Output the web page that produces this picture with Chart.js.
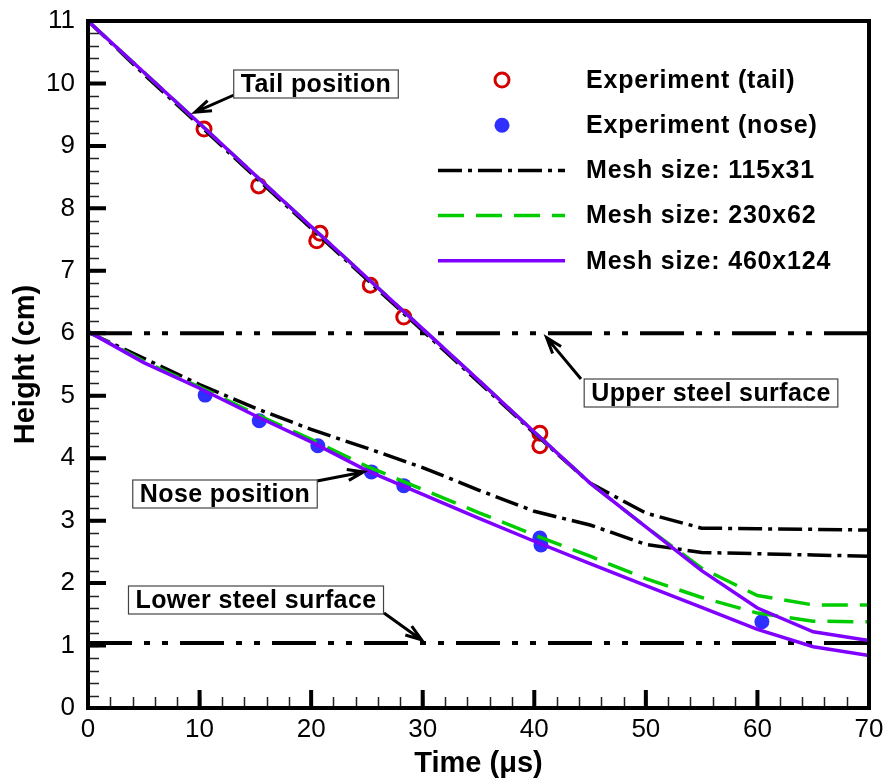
<!DOCTYPE html>
<html>
<head>
<meta charset="utf-8">
<title>Height vs time</title>
<script src="https://cdn.jsdelivr.net/npm/chart.js@4.4.1/dist/chart.umd.min.js"></script>
<style>
    html, body { margin: 0; padding: 0; background: #fff; }
    canvas { display: block; }
</style>
</head>
<body>
<canvas id="heightChart" width="887" height="783"></canvas>
<script>
/* ======================
   DATA
====================== */
const tailExpTime   = [10.4, 15.3, 20.5, 20.8, 25.3, 28.3, 40.5, 40.5];
const tailExpHeight = [9.27, 8.36, 7.48, 7.60, 6.77, 6.26, 4.40, 4.20];

const noseExpTime   = [10.5, 15.35, 20.6, 25.4, 28.3, 40.5, 40.6, 60.4];
const noseExpHeight = [5.01, 4.60, 4.20, 3.78, 3.56, 2.72, 2.61, 1.38];

const simTime = [0, 5, 10, 15, 20, 25, 30, 35, 40, 45, 50, 55, 60, 65, 70];

const tail115 = [11, 10.15, 9.33, 8.50, 7.68, 6.86, 6.04, 5.22, 4.40, 3.60, 3.12, 2.88, 2.87, 2.86, 2.85];
const nose115 = [6.02, 5.60, 5.18, 4.80, 4.46, 4.16, 3.85, 3.49, 3.15, 2.93, 2.62, 2.49, 2.47, 2.45, 2.43];

const tail230 = [11, 10.18, 9.36, 8.53, 7.71, 6.89, 6.07, 5.25, 4.42, 3.60, 2.90, 2.24, 1.80, 1.65, 1.65];
const nose230 = [6.03, 5.55, 5.14, 4.71, 4.30, 3.87, 3.50, 3.13, 2.77, 2.43, 2.07, 1.77, 1.52, 1.39, 1.38];

const tail460 = [11, 10.18, 9.36, 8.53, 7.71, 6.89, 6.07, 5.25, 4.42, 3.60, 2.90, 2.20, 1.60, 1.22, 1.08];
const nose460 = [6.03, 5.53, 5.12, 4.68, 4.26, 3.80, 3.42, 3.04, 2.67, 2.31, 1.96, 1.61, 1.26, 0.98, 0.84];

const steelTime   = [0, 70];
const upperSteel  = [6, 6];
const lowerSteel  = [1.04, 1.04];

const xTickValues = [0, 10, 20, 30, 40, 50, 60, 70];
const yTickValues = [0, 1, 2, 3, 4, 5, 6, 7, 8, 9, 10, 11];
const xMinorStep = 2;
const yMinorStep = 0.2;

/* ======================
   STYLE
====================== */
const FONT = "'Liberation Sans', Arial, Helvetica, sans-serif";
Chart.defaults.font.family = FONT;

const colors = {
    red: "#d40000",
    blue: "#2f2fff",
    black: "#000000",
    green: "#00cc00",
    purple: "#8000ff",
};

const dashes = {
    mesh115: [24, 6, 4, 6],
    mesh230: [26, 12],
    steel: [44, 12, 6, 12, 6, 12],
};

const pts = (xs, ys) => xs.map((x, i) => ({ x: x, y: ys[i] }));

const lineSet = (label, xs, ys, color, dash, width, order) => ({
    label: label,
    data: pts(xs, ys),
    showLine: true,
    borderColor: color,
    borderWidth: width,
    borderDash: dash,
    pointRadius: 0,
    tension: 0,
    fill: false,
    order: order,
});

const datasets = [
    {
        label: "Experiment (tail)",
        data: pts(tailExpTime, tailExpHeight),
        showLine: false,
        pointRadius: 7,
        pointBorderWidth: 3,
        pointBorderColor: colors.red,
        pointBackgroundColor: "rgba(0,0,0,0)",
        order: 4,
    },
    {
        label: "Experiment (nose)",
        data: pts(noseExpTime, noseExpHeight),
        showLine: false,
        pointRadius: 7.5,
        pointBorderWidth: 0,
        pointBackgroundColor: colors.blue,
        pointBorderColor: colors.blue,
        order: 4,
    },
    lineSet("Mesh size: 115x31", simTime, tail115, colors.black, dashes.mesh115, 3.5, 3),
    lineSet("Mesh size: 115x31", simTime, nose115, colors.black, dashes.mesh115, 3.5, 3),
    lineSet("Mesh size: 230x62", simTime, tail230, colors.green, dashes.mesh230, 3.5, 2),
    lineSet("Mesh size: 230x62", simTime, nose230, colors.green, dashes.mesh230, 3.5, 2),
    lineSet("Mesh size: 460x124", simTime, tail460, colors.purple, [], 3.5, 1),
    lineSet("Mesh size: 460x124", simTime, nose460, colors.purple, [], 3.5, 1),
    lineSet("Upper steel surface", steelTime, upperSteel, colors.black, dashes.steel, 4, 5),
    lineSet("Lower steel surface", steelTime, lowerSteel, colors.black, dashes.steel, 4, 5),
];

// which datasets show in the legend, in order
const legendIndex = [0, 1, 2, 4, 6];

// text boxes with arrows; tip is in data units, the rest in pixels
const notes = [
    { text: "Tail position",       cx: 316, cy: 84,  tip: [9.6, 9.54],  from: [234, 95] },
    { text: "Upper steel surface", cx: 711, cy: 393, tip: [41.1, 5.93], from: [581, 379] },
    { text: "Nose position",       cx: 225, cy: 494, tip: [24.7, 3.78], from: [317, 481] },
    { text: "Lower steel surface", cx: 256, cy: 600, tip: [29.9, 1.09], from: [384, 613] },
];

/* ======================
   PLUGIN: frame, inward ticks, legend, notes
====================== */
const decorPlugin = {
    id: "decor",
    afterDatasetsDraw(chart) {
        const ctx = chart.ctx;
        const area = chart.chartArea;
        const xs = chart.scales.x;
        const ys = chart.scales.y;

        ctx.save();

        // minor ticks
        ctx.strokeStyle = "#222";
        ctx.lineWidth = 1.5;
        ctx.beginPath();
        for (let v = xs.min; v <= xs.max + 1e-6; v += xMinorStep) {
            const px = Math.round(xs.getPixelForValue(v)) + 0.5;
            ctx.moveTo(px, area.bottom);
            ctx.lineTo(px, area.bottom - 11);
        }
        for (let v = ys.min; v <= ys.max + 1e-6; v += yMinorStep) {
            const py = Math.round(ys.getPixelForValue(v)) + 0.5;
            ctx.moveTo(area.left, py);
            ctx.lineTo(area.left + 11, py);
        }
        ctx.stroke();

        // major ticks
        ctx.strokeStyle = "#000";
        ctx.lineWidth = 4;
        ctx.beginPath();
        xTickValues.forEach(v => {
            const px = xs.getPixelForValue(v);
            ctx.moveTo(px, area.bottom);
            ctx.lineTo(px, area.bottom - 18);
        });
        yTickValues.forEach(v => {
            const py = ys.getPixelForValue(v);
            ctx.moveTo(area.left, py);
            ctx.lineTo(area.left + 18, py);
        });
        ctx.stroke();

        // frame
        ctx.lineWidth = 4;
        ctx.strokeRect(area.left, area.top, area.right - area.left, area.bottom - area.top);

        // legend
        const legX1 = 438, legX2 = 565, legMark = 502, legText = 586;
        ctx.font = "bold 25px " + FONT;
        ctx.textBaseline = "middle";
        ctx.textAlign = "left";
        ctx.letterSpacing = "0.8px";
        legendIndex.forEach((di, i) => {
            const ds = chart.data.datasets[di];
            const y = 80 + i * 45.2;
            if (ds.showLine) {
                ctx.setLineDash(ds.borderDash || []);
                ctx.strokeStyle = ds.borderColor;
                ctx.lineWidth = ds.borderWidth;
                ctx.beginPath();
                ctx.moveTo(legX1, y);
                ctx.lineTo(legX2, y);
                ctx.stroke();
                ctx.setLineDash([]);
            } else {
                ctx.beginPath();
                ctx.arc(legMark, y, ds.pointRadius, 0, Math.PI * 2);
                if (ds.pointBorderWidth > 0) {
                    ctx.lineWidth = ds.pointBorderWidth;
                    ctx.strokeStyle = ds.pointBorderColor;
                    ctx.stroke();
                } else {
                    ctx.fillStyle = ds.pointBackgroundColor;
                    ctx.fill();
                }
            }
            ctx.fillStyle = "#000";
            ctx.fillText(ds.label, legText, y + 1);
        });

        // notes
        ctx.letterSpacing = "0.4px";
        notes.forEach(n => {
            const tx = xs.getPixelForValue(n.tip[0]);
            const ty = ys.getPixelForValue(n.tip[1]);
            const [fx, fy] = n.from;

            // arrow shaft
            ctx.strokeStyle = "#000";
            ctx.lineWidth = 3;
            ctx.beginPath();
            ctx.moveTo(fx, fy);
            ctx.lineTo(tx, ty);
            // open head
            const ang = Math.atan2(ty - fy, tx - fx);
            const len = 17, spread = 0.33;
            ctx.moveTo(tx - len * Math.cos(ang - spread), ty - len * Math.sin(ang - spread));
            ctx.lineTo(tx, ty);
            ctx.lineTo(tx - len * Math.cos(ang + spread), ty - len * Math.sin(ang + spread));
            ctx.stroke();

            // box
            ctx.font = "bold 25px " + FONT;
            const w = ctx.measureText(n.text).width + 14;
            const h = 28;
            ctx.fillStyle = "#fff";
            ctx.fillRect(n.cx - w / 2, n.cy - h / 2, w, h);
            ctx.strokeStyle = "#444";
            ctx.lineWidth = 1.2;
            ctx.strokeRect(n.cx - w / 2, n.cy - h / 2, w, h);
            ctx.fillStyle = "#000";
            ctx.textAlign = "center";
            ctx.fillText(n.text, n.cx, n.cy + 1);
        });

        ctx.restore();
    },
};

// keep the plot box where the figure has it: no extra room for tick-label overflow
const noOverflow = s => {
    s.paddingTop = 0;
    s.paddingBottom = 0;
    s.paddingLeft = 0;
    s.paddingRight = 0;
};

/* ======================
   CHART
====================== */
new Chart(document.getElementById("heightChart"), {
    type: "scatter",
    data: { datasets: datasets },
    options: {
        responsive: false,
        animation: false,
        devicePixelRatio: 1,
        layout: { padding: { top: 21, right: 18, left: 0, bottom: 0 } },
        plugins: {
            legend: { display: false },
            tooltip: { enabled: false },
        },
        scales: {
            x: {
                type: "linear",
                min: 0,
                max: 70,
                afterBuildTicks: s => { s.ticks = xTickValues.map(v => ({ value: v })); },
                afterFit: s => { s.height = 75; noOverflow(s); },
                grid: { display: false, drawTicks: false },
                border: { display: false },
                ticks: { padding: 6, color: "#000", font: { size: 26 }, maxRotation: 0 },
                title: {
                    display: true,
                    text: "Time (\u03bcs)",
                    color: "#000",
                    font: { size: 29, weight: "bold" },
                    padding: { top: 0, bottom: 2 },
                },
            },
            y: {
                type: "linear",
                min: 0,
                max: 11,
                afterBuildTicks: s => { s.ticks = yTickValues.map(v => ({ value: v })); },
                afterFit: s => { s.width = 88; noOverflow(s); },
                grid: { display: false, drawTicks: false },
                border: { display: false },
                ticks: { padding: 13, color: "#000", font: { size: 26 } },
                title: {
                    display: true,
                    text: "Height (cm)",
                    color: "#000",
                    font: { size: 29, weight: "bold" },
                    padding: { top: 9, bottom: 0 },
                },
            },
        },
    },
    plugins: [decorPlugin],
});
</script>
</body>
</html>
